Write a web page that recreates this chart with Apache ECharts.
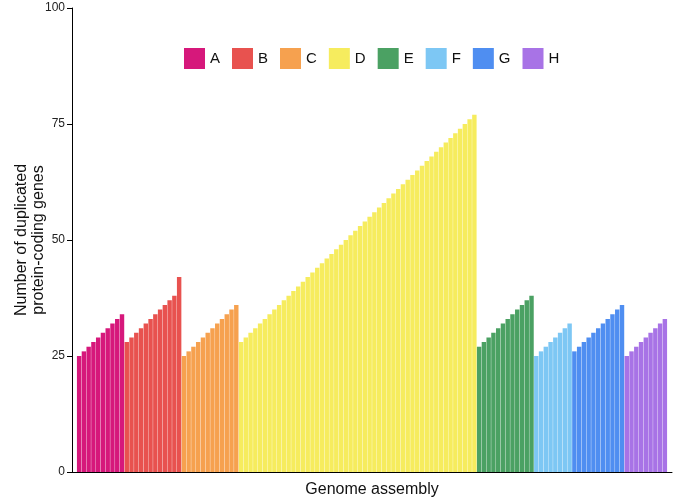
<!DOCTYPE html>
<html>
<head>
<meta charset="utf-8">
<script src="https://cdn.jsdelivr.net/npm/echarts@6/dist/echarts.min.js"></script>
<style>
html,body{margin:0;padding:0;background:#fff;}
#main{width:681px;height:504px;}
</style>
</head>
<body>
<div id="main"></div>
<script>
var groupNames = ['A','B','C','D','E','F','G','H'];
var valuesA = [25,26,27,28,29,30,31,32,33,34];
var valuesB = [28,29,30,31,32,33,34,35,36,37,38,42];
var valuesC = [25,26,27,28,29,30,31,32,33,34,35,36];
var valuesD = [28,29,30,31,32,33,34,35,36,37,38,39,40,41,42,43,44,45,46,47,48,49,50,51,52,53,54,55,56,57,58,59,60,61,62,63,64,65,66,67,68,69,70,71,72,73,74,75,76,77];
var valuesE = [27,28,29,30,31,32,33,34,35,36,37,38];
var valuesF = [25,26,27,28,29,30,31,32];
var valuesG = [26,27,28,29,30,31,32,33,34,35,36];
var valuesH = [25,26,27,28,29,30,31,32,33];
var yTicks = [0,25,50,75,100];

var groupValues = [valuesA,valuesB,valuesC,valuesD,valuesE,valuesF,valuesG,valuesH];
var colors = ['#d6187b','#e8524f','#f6a14f','#f6ec5e','#4ba163','#7dc7f4','#4f8ef1','#a873e6'];

// categories (with one empty padding slot on each side)
var categories = [''];
groupValues.forEach(function(vals, gi){
  vals.forEach(function(v, i){ categories.push(groupNames[gi] + (i+1)); });
});
categories.push(' ');
var total = categories.length;

var series = [];
var offset = 1;
groupValues.forEach(function(vals, gi){
  var data = new Array(total).fill('-');
  vals.forEach(function(v, i){ data[offset + i] = v; });
  offset += vals.length;
  series.push({
    name: groupNames[gi],
    type: 'bar',
    stack: 'all',
    barCategoryGap: '7%',
    itemStyle: {color: colors[gi]},
    data: data
  });
});

var chart = echarts.init(document.getElementById('main'), null, {renderer:'canvas'});
chart.setOption({
  animation: false,
  backgroundColor: '#fff',
  textStyle: {fontFamily: 'Liberation Sans, Arial, sans-serif'},
  legend: {
    data: groupNames,
    left: 179, top: 43,
    itemWidth: 21, itemHeight: 21, itemGap: 12,
    icon: 'rect',
    textStyle: {fontSize: 15, color: '#111', fontFamily: 'Liberation Sans, Arial, sans-serif'}
  },
  grid: {left: 72, right: 9, top: 8, bottom: 32, containLabel: false, outerBoundsMode: 'none'},
  xAxis: {
    type: 'category',
    data: categories,
    name: 'Genome assembly',
    nameLocation: 'middle',
    nameGap: 10,
    nameTextStyle: {fontSize: 16, color: '#111'},
    axisLine: {lineStyle: {color: '#000', width: 1}},
    axisTick: {show: false},
    axisLabel: {show: false},
    splitLine: {show: false}
  },
  yAxis: {
    type: 'value',
    min: yTicks[0], max: yTicks[yTicks.length-1], interval: 25,
    name: 'Number of duplicated\nprotein-coding genes',
    nameLocation: 'middle',
    nameGap: 25,
    nameMoveOverlap: false,
    nameTextStyle: {fontSize: 16, color: '#111', lineHeight: 17},
    axisLine: {show: true, lineStyle: {color: '#000', width: 1}},
    axisTick: {show: true, length: 5, lineStyle: {color: '#000'}},
    axisLabel: {fontSize: 12, color: '#222', margin: 7},
    splitLine: {show: false}
  },
  series: series
});
</script>
</body>
</html>
